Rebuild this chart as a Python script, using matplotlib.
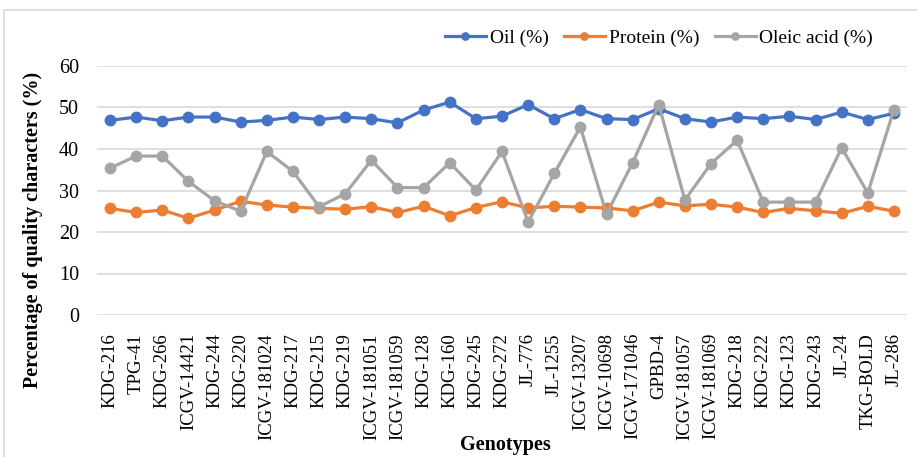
import matplotlib
matplotlib.use("Agg")
import matplotlib.pyplot as plt
from matplotlib.patches import Rectangle

genotypes = ["KDG-216", "TPG-41", "KDG-266", "ICGV-14421", "KDG-244", "KDG-220",
             "ICGV-181024", "KDG-217", "KDG-215", "KDG-219", "ICGV-181051", "ICGV-181059",
             "KDG-128", "KDG-160", "KDG-245", "KDG-272", "JL-776", "JL-1255",
             "ICGV-13207", "ICGV-10698", "ICGV-171046", "GPBD-4", "ICGV-181057",
             "ICGV-181069", "KDG-218", "KDG-222", "KDG-123", "KDG-243", "JL-24",
             "TKG-BOLD", "JL-286"]

oil = [46.9, 47.7, 46.8, 47.7, 47.7, 46.5, 46.9, 47.7, 47.1, 47.7, 47.3, 46.3,
       49.4, 51.3, 47.3, 47.9, 50.7, 47.3, 49.5, 47.3, 47.1, 49.7, 47.3, 46.5,
       47.7, 47.3, 47.9, 47.1, 48.9, 47.1, 48.6]

protein = [25.7, 24.7, 25.3, 23.3, 25.3, 27.4, 26.5, 26.0, 25.7, 25.5, 26.1, 24.7,
           26.2, 23.9, 25.9, 27.3, 25.8, 26.2, 26.0, 25.8, 25.1, 27.2, 26.3, 26.7,
           26.0, 24.7, 25.7, 25.1, 24.5, 26.2, 25.0]

oleic = [35.4, 38.3, 38.3, 32.2, 27.5, 25.0, 39.4, 34.6, 26.1, 29.2, 37.3, 30.7,
         30.7, 36.7, 30.1, 39.4, 22.4, 34.1, 45.3, 24.3, 36.7, 50.7, 27.7, 36.5,
         42.1, 27.2, 27.2, 27.2, 40.3, 29.4, 49.5]

series = [("Oil (%)", oil, "#4472C4"),
          ("Protein (%)", protein, "#ED7D31"),
          ("Oleic acid (%)", oleic, "#A5A5A5")]

plt.rcParams['font.family'] = ['Liberation Serif', 'DejaVu Serif']

W, H = 917, 457
fig = plt.figure(figsize=(W / 100, H / 100), dpi=100)
fig.patches.append(Rectangle((4 / W, -0.1), 1.2, 1 - 10 / H + 0.1,
                             transform=fig.transFigure, fill=False,
                             edgecolor="#D9D9D9", linewidth=1.2))

ax = fig.add_axes([97 / W, 1 - 315 / H, (907 - 97) / W, (315 - 66) / H])
x = list(range(len(genotypes)))
for name, vals, col in series:
    ax.plot(x, vals, color=col, linewidth=2.3, marker="o", markersize=7.5,
            label=name)

ax.set_ylim(0, 60)
ax.set_yticks(range(0, 61, 10))
ax.set_xlim(-0.5, len(genotypes) - 0.5)
ax.set_xticks(x)
ax.set_xticklabels(genotypes, rotation=90, fontsize=13.5)
ax.tick_params(axis="y", labelsize=14.5, length=0, pad=13)
ax.tick_params(axis="x", length=0, pad=13)
ax.grid(axis="y", color="#D9D9D9", linewidth=1.2)
ax.set_axisbelow(True)
for s in ax.spines.values():
    s.set_visible(False)

ax.set_ylabel("Percentage of quality characters (%)", fontsize=14.5,
              fontweight="bold", va="center")
ax.yaxis.set_label_coords(-(97 - 33) / (907 - 97), (315 - 230) / (315 - 66))
fig.text(505 / W, 1 - 445 / H, "Genotypes", ha="center", va="center",
         fontsize=14.5, fontweight="bold")

leg = fig.legend(loc="center", bbox_to_anchor=(659 / W, 1 - 38 / H), ncol=3,
                 frameon=False, fontsize=14, handlelength=2.1,
                 handletextpad=0.2, columnspacing=0.8, markerscale=0.7)

fig.savefig("out.png", dpi=100)
